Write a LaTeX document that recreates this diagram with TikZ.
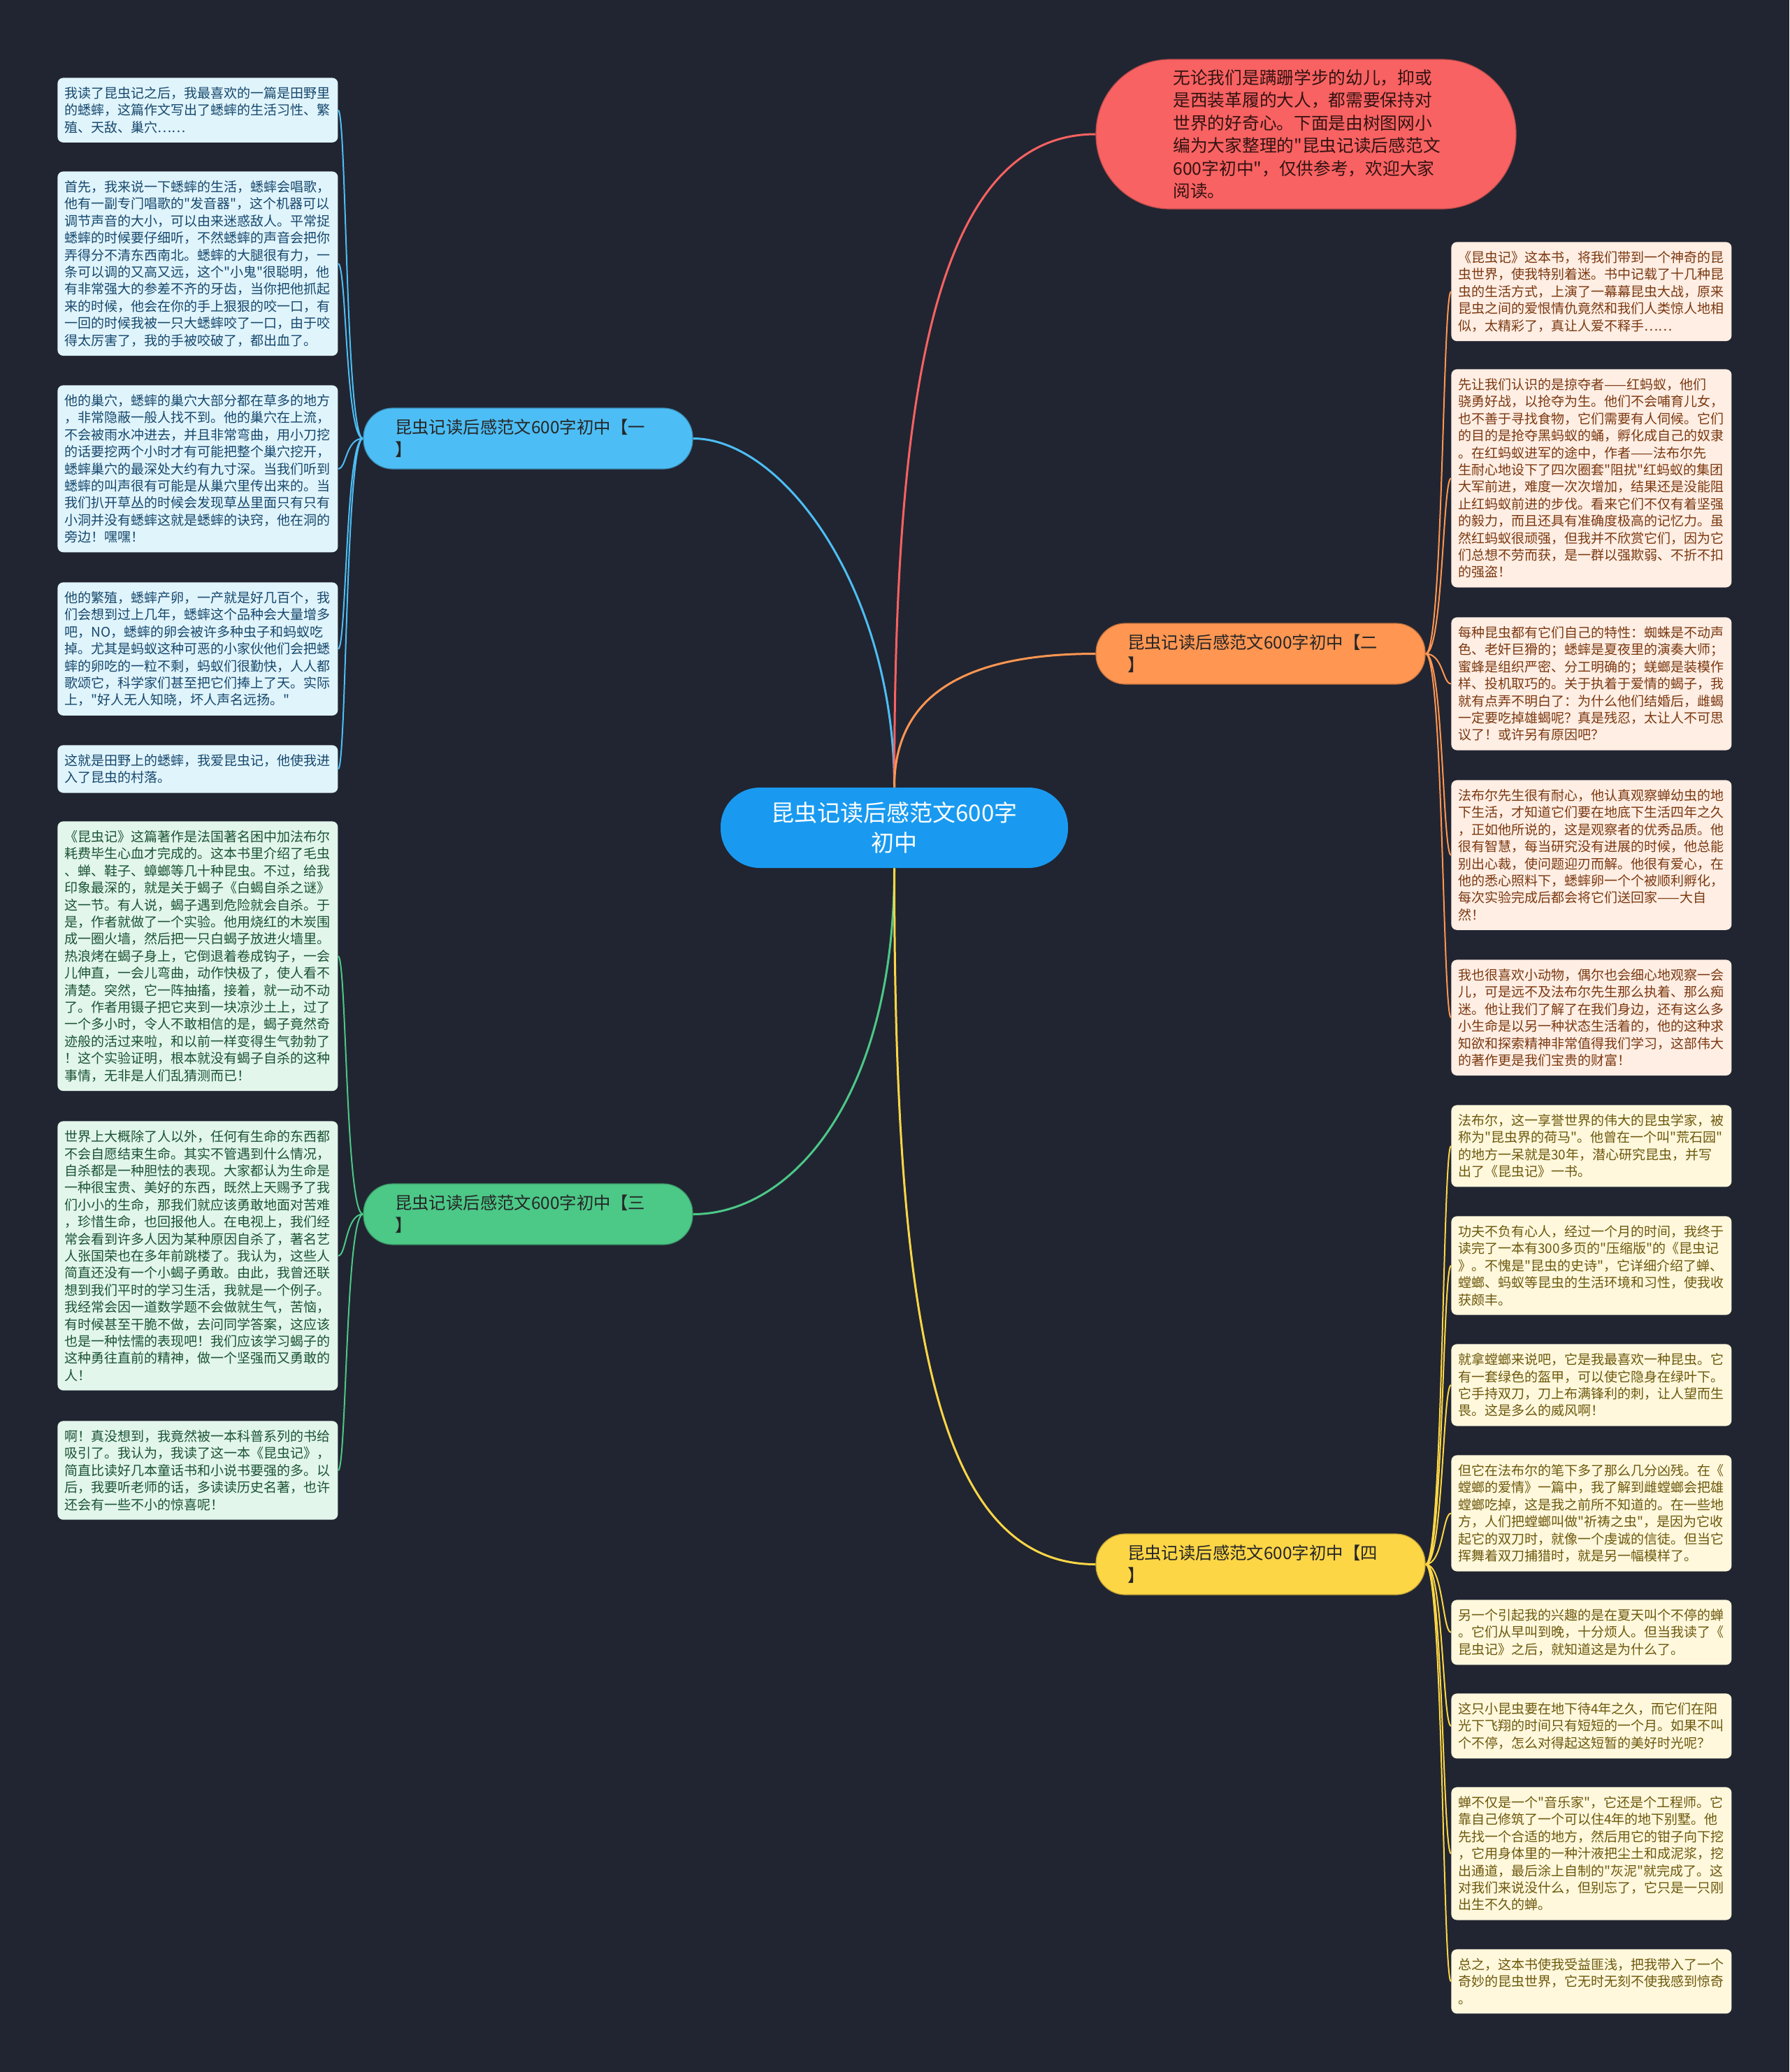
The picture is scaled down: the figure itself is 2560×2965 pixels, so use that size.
\documentclass[tikz,border=0pt]{standalone}
\usepackage{fontspec}
\newfontfamily\cjk{Noto Sans CJK SC}[Ligatures=TeXOff]
\usepackage{xcolor}
\usepackage{tikz}
\definecolor{bgc}{RGB}{33,37,49}
\definecolor{mainc}{RGB}{25,154,240}
\definecolor{redc}{RGB}{248,98,98}
\definecolor{bluec}{RGB}{77,190,245}
\definecolor{orangec}{RGB}{255,150,82}
\definecolor{greenc}{RGB}{76,200,135}
\definecolor{yellowc}{RGB}{253,214,70}
\definecolor{bluefill}{RGB}{224,244,252}
\definecolor{greenfill}{RGB}{226,246,235}
\definecolor{orangefill}{RGB}{255,238,228}
\definecolor{yellowfill}{RGB}{255,248,221}
\definecolor{bluetext}{RGB}{22,72,108}
\definecolor{greentext}{RGB}{26,82,52}
\definecolor{orangetext}{RGB}{122,56,16}
\definecolor{yellowtext}{RGB}{108,88,12}

\begin{document}
\begin{tikzpicture}[x=0.5pt,y=-0.5pt,
  leaf/.style={rounded corners=4pt,anchor=north west,text width=190.5pt,inner xsep=5pt,inner ysep=6.5pt,align=left,font=\cjk\fontsize{9.5}{12.2}\selectfont},
  bleaf/.style={leaf,fill=bluefill,text=bluetext},
  gleaf/.style={leaf,fill=greenfill,text=greentext},
  oleaf/.style={leaf,fill=orangefill,text=orangetext},
  yleaf/.style={leaf,fill=yellowfill,text=yellowtext},
  branch/.style={fill=#1,draw=#1!75!black,line width=0.6pt,rounded corners=21pt,minimum height=43.5pt,text width=190.5pt,inner xsep=22.5pt,inner ysep=0pt,align=left,text=black!85,font=\cjk\fontsize{12.2}{16}\selectfont},
  trunk/.style={line width=1.5pt,#1},
  twig/.style={line width=1pt,#1}]
\fill[bgc](0,0)rectangle(2560,2965);
%%% centre and intro
\node[fill=mainc,rounded corners=28pt,minimum width=248.5pt,minimum height=57.5pt,align=center,text=white,font=\cjk\fontsize{16.5}{21.75}\selectfont](root)at(1279.5,1184.5){昆虫记读后感范文600字\\初中};
\node[fill=redc,draw=redc!75!black,line width=0.6pt,rounded corners=53pt,minimum height=107pt,text width=190pt,inner xsep=55.25pt,align=left,text={rgb,255:red,52;green,18;blue,18},font=\cjk\fontsize{12.35}{16.25}\selectfont](intro)at(1868.5,192){无论我们是蹒跚学步的幼儿，抑或\\是西装革履的大人，都需要保持对\\世界的好奇心。下面是由树图网小\\编为大家整理的"昆虫记读后感范文\\600字初中"，仅供参考，欢迎大家\\阅读。};
%%% branches
\node[branch=bluec](b1)at(755.5,627.5){昆虫记读后感范文600字初中【一\\】};
\node[branch=orangec](b2)at(1803.5,935.5){昆虫记读后感范文600字初中【二\\】};
\node[branch=greenc](b3)at(755.5,1737.5){昆虫记读后感范文600字初中【三\\】};
\node[branch=yellowc](b4)at(1803.5,2238.5){昆虫记读后感范文600字初中【四\\】};
%%% left, part one
\node[bleaf](l1)at(82,111){我读了昆虫记之后，我最喜欢的一篇是田野里\\的蟋蟀，这篇作文写出了蟋蟀的生活习性、繁\\殖、天敌、巢穴……};
\node[bleaf](l2)at(82,245){首先，我来说一下蟋蟀的生活，蟋蟀会唱歌，\\他有一副专门唱歌的"发音器"，这个机器可以\\调节声音的大小，可以由来迷惑敌人。平常捉\\蟋蟀的时候要仔细听，不然蟋蟀的声音会把你\\弄得分不清东西南北。蟋蟀的大腿很有力，一\\条可以调的又高又远，这个"小鬼"很聪明，他\\有非常强大的参差不齐的牙齿，当你把他抓起\\来的时候，他会在你的手上狠狠的咬一口，有\\一回的时候我被一只大蟋蟀咬了一口，由于咬\\得太厉害了，我的手被咬破了，都出血了。};
\node[bleaf](l3)at(82,551){他的巢穴，蟋蟀的巢穴大部分都在草多的地方\\，非常隐蔽一般人找不到。他的巢穴在上流，\\不会被雨水冲进去，并且非常弯曲，用小刀挖\\的话要挖两个小时才有可能把整个巢穴挖开，\\蟋蟀巢穴的最深处大约有九寸深。当我们听到\\蟋蟀的叫声很有可能是从巢穴里传出来的。当\\我们扒开草丛的时候会发现草丛里面只有只有\\小洞并没有蟋蟀这就是蟋蟀的诀窍，他在洞的\\旁边！嘿嘿！};
\node[bleaf](l4)at(82,833){他的繁殖，蟋蟀产卵，一产就是好几百个，我\\们会想到过上几年，蟋蟀这个品种会大量增多\\吧，NO，蟋蟀的卵会被许多种虫子和蚂蚁吃\\掉。尤其是蚂蚁这种可恶的小家伙他们会把蟋\\蟀的卵吃的一粒不剩，蚂蚁们很勤快，人人都\\歌颂它，科学家们甚至把它们捧上了天。实际\\上，"好人无人知晓，坏人声名远扬。"};
\node[bleaf](l5)at(82,1066){这就是田野上的蟋蟀，我爱昆虫记，他使我进\\入了昆虫的村落。};
%%% left, part three
\node[gleaf](g1)at(82,1175){《昆虫记》这篇著作是法国著名困中加法布尔\\耗费毕生心血才完成的。这本书里介绍了毛虫\\、蝉、鞋子、蟑螂等几十种昆虫。不过，给我\\印象最深的，就是关于蝎子《白蝎自杀之谜》\\这一节。有人说，蝎子遇到危险就会自杀。于\\是，作者就做了一个实验。他用烧红的木炭围\\成一圈火墙，然后把一只白蝎子放进火墙里。\\热浪烤在蝎子身上，它倒退着卷成钩子，一会\\儿伸直，一会儿弯曲，动作快极了，使人看不\\清楚。突然，它一阵抽搐，接着，就一动不动\\了。作者用镊子把它夹到一块凉沙土上，过了\\一个多小时，令人不敢相信的是，蝎子竟然奇\\迹般的活过来啦，和以前一样变得生气勃勃了\\！这个实验证明，根本就没有蝎子自杀的这种\\事情，无非是人们乱猜测而已！};
\node[gleaf](g2)at(82,1604){世界上大概除了人以外，任何有生命的东西都\\不会自愿结束生命。其实不管遇到什么情况，\\自杀都是一种胆怯的表现。大家都认为生命是\\一种很宝贵、美好的东西，既然上天赐予了我\\们小小的生命，那我们就应该勇敢地面对苦难\\，珍惜生命，也回报他人。在电视上，我们经\\常会看到许多人因为某种原因自杀了，著名艺\\人张国荣也在多年前跳楼了。我认为，这些人\\简直还没有一个小蝎子勇敢。由此，我曾还联\\想到我们平时的学习生活，我就是一个例子。\\我经常会因一道数学题不会做就生气，苦恼，\\有时候甚至干脆不做，去问同学答案，这应该\\也是一种怯懦的表现吧！我们应该学习蝎子的\\这种勇往直前的精神，做一个坚强而又勇敢的\\人！};
\node[gleaf](g3)at(82,2033){啊！真没想到，我竟然被一本科普系列的书给\\吸引了。我认为，我读了这一本《昆虫记》，\\简直比读好几本童话书和小说书要强的多。以\\后，我要听老师的话，多读读历史名著，也许\\还会有一些不小的惊喜呢！};
%%% right, part two
\node[oleaf](r1)at(2076,346){《昆虫记》这本书，将我们带到一个神奇的昆\\虫世界，使我特别着迷。书中记载了十几种昆\\虫的生活方式，上演了一幕幕昆虫大战，原来\\昆虫之间的爱恨情仇竟然和我们人类惊人地相\\似，太精彩了，真让人爱不释手……};
\node[oleaf](r2)at(2076,528){先让我们认识的是掠夺者——红蚂蚁，他们\\骁勇好战，以抢夺为生。他们不会哺育儿女，\\也不善于寻找食物，它们需要有人伺候。它们\\的目的是抢夺黑蚂蚁的蛹，孵化成自己的奴隶\\。在红蚂蚁进军的途中，作者——法布尔先\\生耐心地设下了四次圈套"阻扰"红蚂蚁的集团\\大军前进，难度一次次增加，结果还是没能阻\\止红蚂蚁前进的步伐。看来它们不仅有着坚强\\的毅力，而且还具有准确度极高的记忆力。虽\\然红蚂蚁很顽强，但我并不欣赏它们，因为它\\们总想不劳而获，是一群以强欺弱、不折不扣\\的强盗！};
\node[oleaf](r3)at(2076,883){每种昆虫都有它们自己的特性：蜘蛛是不动声\\色、老奸巨猾的；蟋蟀是夏夜里的演奏大师；\\蜜蜂是组织严密、分工明确的；蜣螂是装模作\\样、投机取巧的。关于执着于爱情的蝎子，我\\就有点弄不明白了：为什么他们结婚后，雌蝎\\一定要吃掉雄蝎呢？真是残忍，太让人不可思\\议了！或许另有原因吧？};
\node[oleaf](r4)at(2076,1116){法布尔先生很有耐心，他认真观察蝉幼虫的地\\下生活，才知道它们要在地底下生活四年之久\\，正如他所说的，这是观察者的优秀品质。他\\很有智慧，每当研究没有进展的时候，他总能\\别出心裁，使问题迎刃而解。他很有爱心，在\\他的悉心照料下，蟋蟀卵一个个被顺利孵化，\\每次实验完成后都会将它们送回家——大自\\然！};
\node[oleaf](r5)at(2076,1373){我也很喜欢小动物，偶尔也会细心地观察一会\\儿，可是远不及法布尔先生那么执着、那么痴\\迷。他让我们了解了在我们身边，还有这么多\\小生命是以另一种状态生活着的，他的这种求\\知欲和探索精神非常值得我们学习，这部伟大\\的著作更是我们宝贵的财富！};
%%% right, part four
\node[yleaf](y1)at(2076,1581){法布尔，这一享誉世界的伟大的昆虫学家，被\\称为"昆虫界的荷马"。他曾在一个叫"荒石园"\\的地方一呆就是30年，潜心研究昆虫，并写\\出了《昆虫记》一书。};
\node[yleaf](y2)at(2076,1740){功夫不负有心人，经过一个月的时间，我终于\\读完了一本有300多页的"压缩版"的《昆虫记\\》。不愧是"昆虫的史诗"，它详细介绍了蝉、\\螳螂、蚂蚁等昆虫的生活环境和习性，使我收\\获颇丰。};
\node[yleaf](y3)at(2076,1923){就拿螳螂来说吧，它是我最喜欢一种昆虫。它\\有一套绿色的盔甲，可以使它隐身在绿叶下。\\它手持双刀，刀上布满锋利的刺，让人望而生\\畏。这是多么的威风啊！};
\node[yleaf](y4)at(2076,2082){但它在法布尔的笔下多了那么几分凶残。在《\\螳螂的爱情》一篇中，我了解到雌螳螂会把雄\\螳螂吃掉，这是我之前所不知道的。在一些地\\方，人们把螳螂叫做"祈祷之虫"，是因为它收\\起它的双刀时，就像一个虔诚的信徒。但当它\\挥舞着双刀捕猎时，就是另一幅模样了。};
\node[yleaf](y5)at(2076,2289){另一个引起我的兴趣的是在夏天叫个不停的蝉\\。它们从早叫到晚，十分烦人。但当我读了《\\昆虫记》之后，就知道这是为什么了。};
\node[yleaf](y6)at(2076,2423){这只小昆虫要在地下待4年之久，而它们在阳\\光下飞翔的时间只有短短的一个月。如果不叫\\个不停，怎么对得起这短暂的美好时光呢？};
\node[yleaf](y7)at(2076,2557){蝉不仅是一个"音乐家"，它还是个工程师。它\\靠自己修筑了一个可以住4年的地下别墅。他\\先找一个合适的地方，然后用它的钳子向下挖\\，它用身体里的一种汁液把尘土和成泥浆，挖\\出通道，最后涂上自制的"灰泥"就完成了。这\\对我们来说没什么，但别忘了，它只是一只刚\\出生不久的蝉。};
\node[yleaf](y8)at(2076,2789){总之，这本书使我受益匪浅，把我带入了一个\\奇妙的昆虫世界，它无时无刻不使我感到惊奇\\。};
%%% trunks
\draw[trunk=bluec](root.north)..controls +(0,-280) and +(130,0)..(b1.east);
\draw[trunk=redc](root.north)..controls +(0,-530) and +(-240,0)..(intro.west);
\draw[trunk=orangec](root.north)..controls +(0,-130) and +(-190,0)..(b2.west);
\draw[trunk=greenc](root.south)..controls +(0,330) and +(140,0)..(b3.east);
\draw[trunk=yellowc](root.south)..controls +(0,650) and +(-230,0)..(b4.west);
%%% twigs
\draw[twig=bluec](b1.west)..controls +(-25,0) and +(12,0)..(l1.east)
(b1.west)..controls +(-25,0) and +(12,0)..(l2.east)
(b1.west)..controls +(-25,0) and +(12,0)..(l3.east)
(b1.west)..controls +(-25,0) and +(12,0)..(l4.east)
(b1.west)..controls +(-25,0) and +(12,0)..(l5.east);
\draw[twig=greenc](b3.west)..controls +(-25,0) and +(12,0)..(g1.east)
(b3.west)..controls +(-25,0) and +(12,0)..(g2.east)
(b3.west)..controls +(-25,0) and +(12,0)..(g3.east);
\draw[twig=orangec](b2.east)..controls +(25,0) and +(-12,0)..(r1.west)
(b2.east)..controls +(25,0) and +(-12,0)..(r2.west)
(b2.east)..controls +(25,0) and +(-12,0)..(r3.west)
(b2.east)..controls +(25,0) and +(-12,0)..(r4.west)
(b2.east)..controls +(25,0) and +(-12,0)..(r5.west);
\draw[twig=yellowc](b4.east)..controls +(25,0) and +(-12,0)..(y1.west)
(b4.east)..controls +(25,0) and +(-12,0)..(y2.west)
(b4.east)..controls +(25,0) and +(-12,0)..(y3.west)
(b4.east)..controls +(25,0) and +(-12,0)..(y4.west)
(b4.east)..controls +(25,0) and +(-12,0)..(y5.west)
(b4.east)..controls +(25,0) and +(-12,0)..(y6.west)
(b4.east)..controls +(25,0) and +(-12,0)..(y7.west)
(b4.east)..controls +(25,0) and +(-12,0)..(y8.west);
\end{tikzpicture}
\end{document}
